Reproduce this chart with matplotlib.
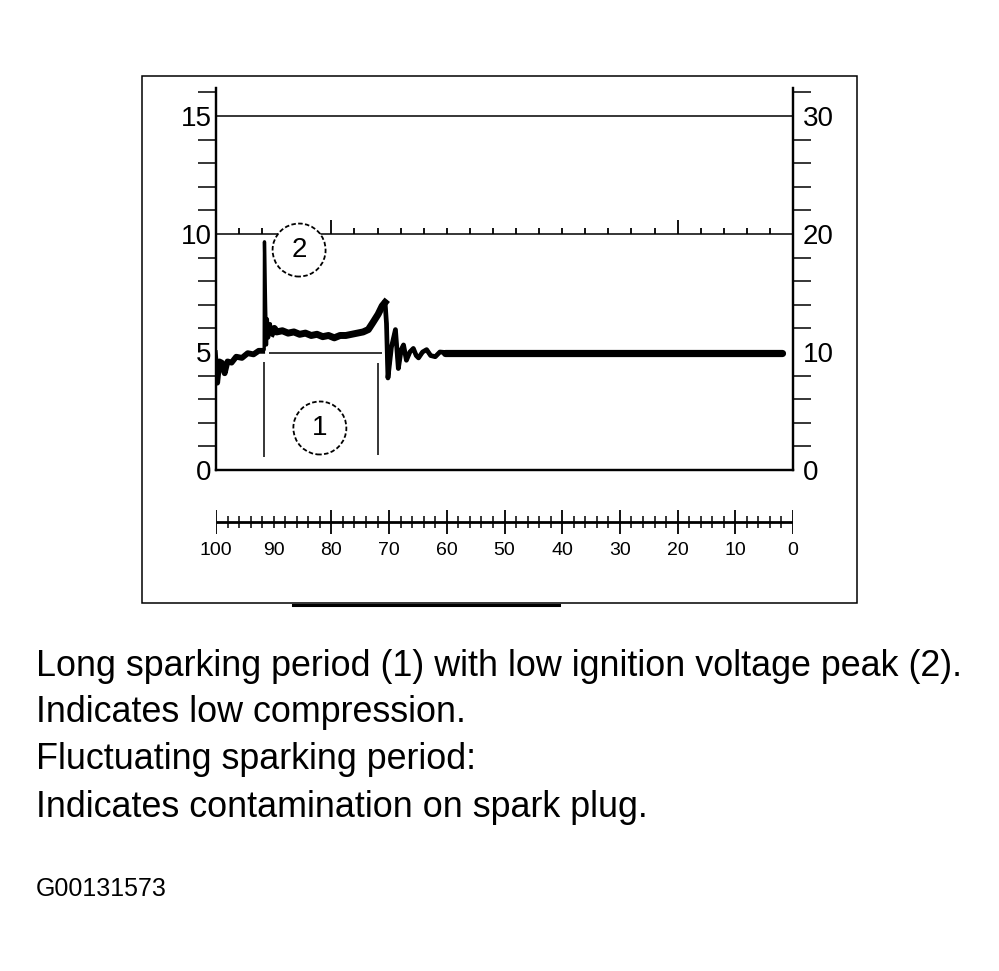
import matplotlib
matplotlib.use("Agg")
import matplotlib.pyplot as plt
from matplotlib.patches import Ellipse, Rectangle
from matplotlib.lines import Line2D
from matplotlib.ticker import FixedLocator, NullLocator

plt.rcParams['font.family'] = ['Liberation Sans', 'DejaVu Sans']

# ---------------- data ----------------
left_major = [0, 5, 10, 15]
left_minor = [1, 2, 3, 4, 6, 7, 8, 9, 11, 12, 13, 14, 16]
right_major = [0, 10, 20, 30]
right_minor = [2, 4, 6, 8, 12, 14, 16, 18, 22, 24, 26, 28, 32]
grid_levels = [10, 15]
grid_ticks_small = [96, 92, 88, 84, 76, 72, 68, 64, 60, 56, 52, 48, 44, 40, 36, 32, 28, 24, 16, 12, 8, 4]
grid_ticks_tall = [80, 20]

time_labels = [100, 90, 80, 70, 60, 50, 40, 30, 20, 10, 0]
time_major = [100, 80, 70, 60, 50, 40, 30, 20, 10, 0]
time_minor = [98, 96, 94, 92, 90, 88, 86, 84, 82, 78, 76, 74, 72, 68, 66, 64, 62,
              58, 56, 54, 52, 48, 46, 44, 42, 38, 36, 34, 32, 28, 26, 24, 22,
              18, 16, 14, 12, 8, 6, 4, 2]

trace_t = [100.2, 99.8, 99.4, 99.0, 98.5, 98.0, 97.3, 96.5, 95.5, 94.5, 93.5, 92.6, 92.0,
           91.65, 91.6, 91.4, 91.25, 91.1, 90.9, 90.6, 90.3, 89.9, 89.5,
           88.5, 87.5, 86.5, 85.5, 84.5, 83.5, 82.5, 81.5, 80.5, 79.5, 78.5, 77.5,
           76.5, 75.5, 74.5, 73.6, 72.8, 71.9, 71.2, 70.7, 70.45, 70.2, 69.6, 68.9,
           68.4, 67.9, 67.5, 67.0, 66.4, 65.8, 65.3, 64.9, 64.2, 63.5, 62.8, 62.0,
           61.2, 60.3]
trace_v = [4.95, 3.7, 4.6, 4.55, 4.1, 4.6, 4.55, 4.8, 4.75, 4.95, 4.9, 5.05, 5.05,
           5.1, 9.67, 6.9, 5.3, 6.4, 5.6, 6.2, 5.8, 6.0, 5.85,
           5.9, 5.8, 5.85, 5.75, 5.8, 5.7, 5.75, 5.65, 5.7, 5.6, 5.7, 5.7,
           5.75, 5.8, 5.85, 5.95, 6.25, 6.6, 6.95, 7.1, 6.2, 3.9, 5.2, 5.95,
           4.3, 5.1, 5.3, 4.65, 5.0, 5.15, 4.85, 4.75, 5.0, 5.1, 4.85, 4.8,
           5.0, 4.98]
tail_t = [60.3, 1.9]
tail_v = [4.95, 4.95]

bracket_level = 4.94
bracket_span = [90.8, 71.2]
bracket_legs_t = [91.7, 71.9]
bracket_legs_top = [4.59, 4.53]
bracket_legs_bottom = [0.55, 0.64]

marker_labels = ["1", "2"]
marker_t = [82.0, 85.6]
marker_v = [1.78, 9.32]

caption_lines = [
    "Long sparking period (1) with low ignition voltage peak (2).",
    "Indicates low compression.",
    "Fluctuating sparking period:",
    "Indicates contamination on spark plug.",
]
figure_id = "G00131573"

# ---------------- layout helpers ----------------
W, H = 999, 971
def fx(x):
    return x / W
def fy(y):
    return 1 - y / H

fig = plt.figure(figsize=(W / 100, H / 100), dpi=100)

# outer frame
fig.add_artist(Rectangle((fx(142), fy(603)), (857 - 142) / W, (603 - 76) / H,
                         transform=fig.transFigure, fill=False, lw=1.1, ec='black'))
fig.add_artist(Line2D([fx(293), fx(559)], [fy(604.5), fy(604.5)],
                      transform=fig.transFigure, lw=2.2, color='black'))

# main scope axes
px_per_v = 23.6
ymax = 16.2
ax = fig.add_axes([fx(216), fy(470), 577 / W, ymax * px_per_v / H])
ax.set_xlim(100, 0)
ax.set_ylim(0, ymax)
ax.patch.set_alpha(0)
ax.spines['top'].set_visible(False)
for s in ['left', 'right', 'bottom']:
    ax.spines[s].set_linewidth(1.6)
ax.xaxis.set_major_locator(NullLocator())
ax.yaxis.set_major_locator(FixedLocator(left_major))
ax.yaxis.set_minor_locator(FixedLocator(left_minor))
ax.set_yticklabels([str(v) for v in left_major])
ax.tick_params(axis='y', which='major', length=0, pad=3, labelsize=20)
ax.tick_params(axis='y', which='minor', length=13, width=1.1, direction='out')

ax2 = ax.twinx()
ax2.set_ylim(0, ymax * 2)
ax2.spines['top'].set_visible(False)
for s in ['left', 'right', 'bottom']:
    ax2.spines[s].set_linewidth(1.6)
ax2.yaxis.set_major_locator(FixedLocator(right_major))
ax2.yaxis.set_minor_locator(FixedLocator(right_minor))
ax2.set_yticklabels([str(v) for v in right_major])
ax2.tick_params(axis='y', which='major', length=0, pad=7, labelsize=20)
ax2.tick_params(axis='y', which='minor', length=13, width=1.1, direction='out')

for lvl in grid_levels:
    ax.axhline(lvl, color='black', lw=1.1, zorder=2)
ax.vlines(grid_ticks_small, 10, 10.27, color='black', lw=1.3, zorder=2)
ax.vlines(grid_ticks_tall, 10, 10.6, color='black', lw=1.3, zorder=2)

# waveform
ax.plot(trace_t, trace_v, color='black', lw=2.4, zorder=3, solid_joinstyle='round')
ax.plot(trace_t[:13], trace_v[:13], color='black', lw=4.2, zorder=3, solid_joinstyle='round')
ax.plot(trace_t[20:43], trace_v[20:43], color='black', lw=5.0, zorder=3, solid_joinstyle='round')
ax.plot(trace_t[42:], trace_v[42:], color='black', lw=3.4, zorder=3, solid_joinstyle='round')
ax.plot(tail_t, tail_v, color='black', lw=5.2, zorder=3, solid_capstyle='round')

# sparking period bracket
ax.hlines(bracket_level, bracket_span[0], bracket_span[1], color='black', lw=1.1, zorder=3)
ax.vlines(bracket_legs_t, bracket_legs_bottom, bracket_legs_top, color='black', lw=1.1, zorder=3)

# numbered markers
px_per_t = 577 / 100
r = 26.5
for lab, t, v in zip(marker_labels, marker_t, marker_v):
    ax.add_patch(Ellipse((t, v), 2 * r / px_per_t, 2 * r / px_per_v, facecolor='white',
                         edgecolor='black', lw=1.3, linestyle=(0, (2.5, 1.3)), zorder=5,
                         clip_on=False))
    ax.text(t, v, lab, ha='center', va='center', fontsize=20, zorder=6)

# time scale
axt = fig.add_axes([fx(216), fy(542), 577 / W, 40 / H])
axt.set_xlim(100, 0)
axt.set_ylim(-20, 20)
axt.axis('off')
axt.hlines(0, 100, 0, color='black', lw=2.0)
axt.vlines(time_major, -12, 12, color='black', lw=1.3)
axt.vlines(time_minor, -6, 6, color='black', lw=1.1)
for t in time_labels:
    axt.text(t, -28, str(t), ha='center', va='center', fontsize=14)

# caption
baselines = [676, 722, 769, 817]
for line, b in zip(caption_lines, baselines):
    fig.text(fx(36), fy(b), line, fontsize=25.8, ha='left', va='baseline')
fig.text(fx(36), fy(896), figure_id, fontsize=18, ha='left', va='baseline')

fig.savefig("out.png", dpi=100)
